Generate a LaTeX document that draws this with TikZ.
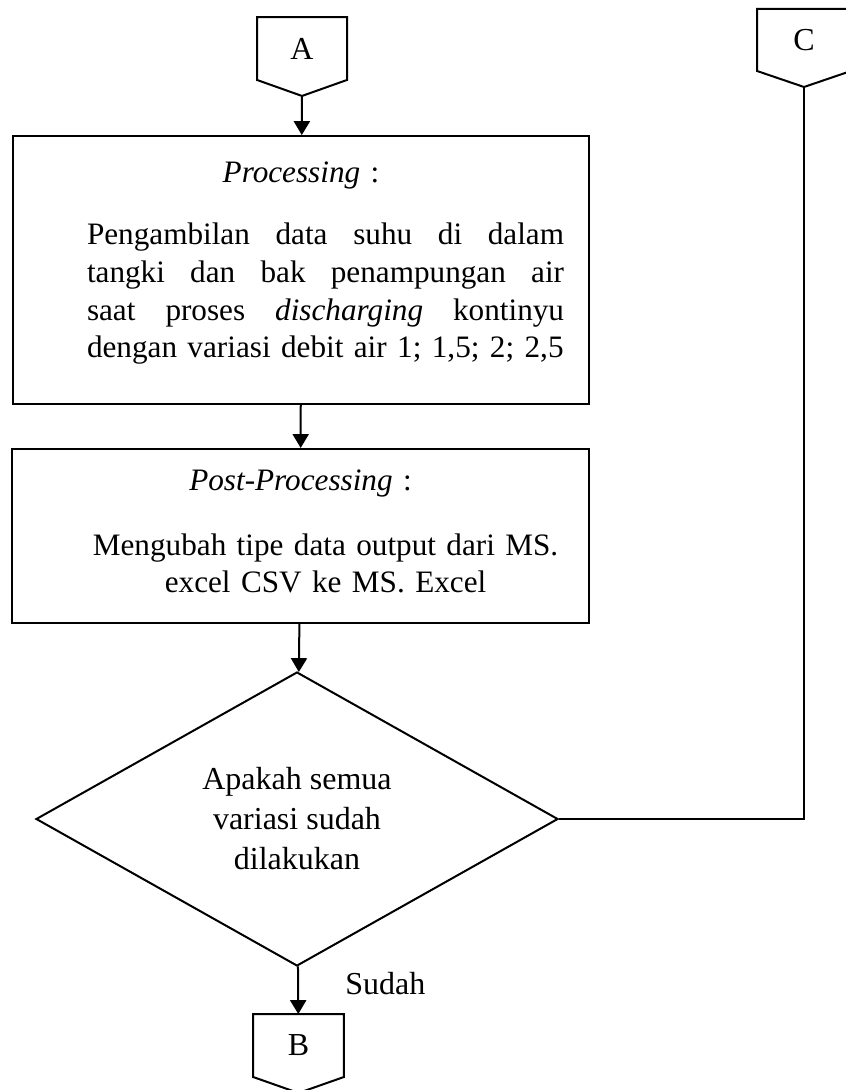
\documentclass[tikz,border=0pt]{standalone}
\usepackage{fontspec}
\setmainfont{Liberation Serif}
\usetikzlibrary{shapes.geometric, arrows.meta, positioning}
\tikzstyle{block} = [draw, fill=white, rectangle, line width=0.75pt, inner sep=0pt, align=center, font=\fontsize{11.7pt}{14.2pt}\selectfont]
\tikzstyle{decision} = [draw, diamond, line width=0.75pt, inner sep=0pt, align=center, font=\fontsize{12pt}{15pt}\selectfont]
\tikzstyle{connector} = [rectangle, inner sep=0pt, outer sep=0pt]
\tikzstyle{arrow} = [draw, ->, line width=0.75pt]
\newcommand{\offpageshape}[1]{\draw [line width=0.75pt] (#1.north west) -- (#1.north east) -- (#1.south east) -- ([yshift=-6pt]#1.south) coordinate (#1tip) -- (#1.south west) -- cycle;}
\newcommand{\fullline}[1]{\makebox[\linewidth]{#1}}

\begin{document}
\begin{tikzpicture}[x=0.375pt, y=-0.375pt, font=\fontsize{12pt}{14.2pt}\selectfont, >={Triangle[length=5.2pt, width=6pt]}]
    \useasboundingbox (0,0) rectangle (845,1090);
    \node [connector, minimum width=33.75pt, minimum height=23.6pt] (A) at (302,48.5) {A};
    \node [connector, minimum width=35.25pt, minimum height=23.25pt] (C) at (804,40) {C};
    \node [block, anchor=base, text width=216pt, text height=17.6pt, text depth=82.9pt] (proc) at (301,183)
        {\textit{Processing} :\\[9pt]
        \hspace*{18.4pt}\parbox[t]{178.9pt}{\fontsize{11.7pt}{14.1pt}\selectfont
        \fullline{Pengambilan\hfill data\hfill suhu\hfill di\hfill dalam}\\
        \fullline{tangki\hfill dan\hfill bak\hfill penampungan\hfill air}\\
        \fullline{saat\hfill proses\hfill \textit{discharging}\hfill kontinyu}\\
        \mbox{dengan variasi debit air 1; 1,5; 2; 2,5}}};
    \node [block, anchor=base, text width=216.4pt, text height=15.4pt, text depth=49.9pt] (post) at (300.5,490)
        {\textit{Post-Processing} :\\[10.2pt]
        \hspace*{18.8pt}\parbox[t]{190pt}{\fontsize{11.7pt}{14.2pt}\selectfont\centering Mengubah tipe data output dari MS.\\ excel CSV ke MS. Excel}};
    \node [decision, minimum width=195.75pt, minimum height=110.25pt] (dec) at (297,819) {Apakah semua\\ variasi sudah\\ dilakukan};
    \node [connector, minimum width=34.1pt, minimum height=23.6pt] (B) at (298.5,1045.5) {B};
    \offpageshape{A}
    \offpageshape{B}
    \offpageshape{C}
    \draw [arrow] (Atip) -- (proc);
    \draw [arrow] (proc) -- (post);
    \draw [arrow] (post) -- (dec);
    \draw [arrow] (dec) -- node [pos=0.35, right=14pt] (sudah) {Sudah} (B);
    \draw [line width=0.4pt] (dec.east) -| (Ctip);
\end{tikzpicture}
\end{document}
